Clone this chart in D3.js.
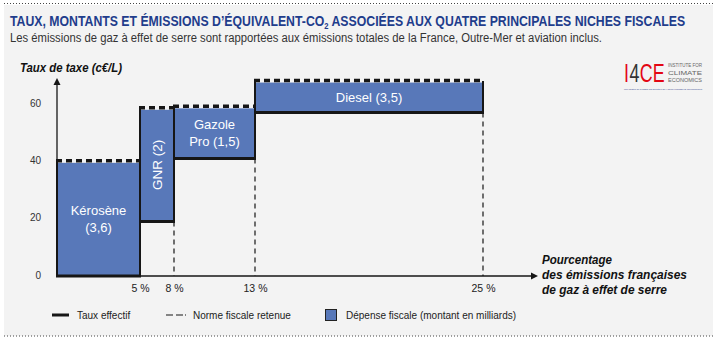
<!DOCTYPE html>
<html><head><meta charset="utf-8">
<script src="https://cdn.jsdelivr.net/npm/d3@7"></script>
<style>
html,body{margin:0;padding:0;background:#fff;}
svg{display:block;font-family:"Liberation Sans",Arial,Helvetica,sans-serif;}
</style></head>
<body>
<script>
// ---- data ----
const categories = ["Kérosène", "GNR", "Gazole Pro", "Diesel"];
const labelLines = [["Kérosène", "(3,6)"], ["GNR (2)"], ["Gazole", "Pro (1,5)"], ["Diesel (3,5)"]];
const fiscalAmount = [3.6, 2, 1.5, 3.5];       // milliards
const pctStart = [0, 5, 8, 13];               // % des émissions
const pctEnd = [5, 8, 13, 25];
const effectiveRate = [0, 19, 41, 57];        // c€/L
const normRate = [40, 58.5, 59, 68];          // c€/L
const yTicks = [0, 20, 40, 60];
const xTicks = [5, 8, 13, 25];
const xBreaks = [0, 5, 8, 13, 25];

const W = 718, H = 344;
const blue = "#5878b9", ink = "#161616";
const svg = d3.select("body").append("svg").attr("width", W).attr("height", H);

// panel
svg.append("rect").attr("x", 4).attr("y", 5).attr("width", 709).attr("height", 331).attr("fill", "#f3f3f3");
[3.5, 336].forEach(y => svg.append("line").attr("x1", 4).attr("x2", 713).attr("y1", y).attr("y2", y)
  .attr("stroke", "#444").attr("stroke-width", 1).attr("stroke-dasharray", "1,2"));

function fit(sel, w) { return sel.attr("textLength", w).attr("lengthAdjust", "spacingAndGlyphs"); }

const title = svg.append("text").attr("x", 10).attr("y", 26).attr("font-size", 14.5).attr("font-weight", "bold").attr("fill", "#1f3d8c");
title.append("tspan").text("TAUX, MONTANTS ET ÉMISSIONS D’ÉQUIVALENT-CO");
title.append("tspan").attr("font-size", 9).attr("dy", 3).text("2");
title.append("tspan").attr("dy", -3).text(" ASSOCIÉES AUX QUATRE PRINCIPALES NICHES FISCALES");
{ const w = title.node().getComputedTextLength(); title.attr("transform", `translate(10,0) scale(${676 / w},1) translate(-10,0)`); }

fit(svg.append("text").attr("x", 10).attr("y", 42).attr("font-size", 12).attr("fill", "#333")
  .text("Les émissions de gaz à effet de serre sont rapportées aux émissions totales de la France, Outre-Mer et aviation inclus."), 592);

// ---- scales ----
const plotLeft = 57, plotBottom = 276;
const y = d3.scaleLinear().domain([0, 60]).range([plotBottom, 104]);
const xRange = [plotLeft, 140, 174, 255, 483];
const x = d3.scaleLinear().domain(xBreaks).range(xRange);

const data = categories.map((c, i) => ({
  c, lines: labelLines[i], amount: fiscalAmount[i], x0: pctStart[i], x1: pctEnd[i],
  eff: effectiveRate[i], norm: normRate[i]
}));

// axes
const yAxis = svg.append("g").attr("transform", `translate(${plotLeft},0)`)
  .call(d3.axisLeft(y).tickValues(yTicks).tickSize(0).tickPadding(16));
yAxis.select(".domain").remove();
yAxis.selectAll("text").attr("font-size", 10).attr("fill", "#333").attr("font-family", "Liberation Sans, Arial").attr("dy", "0.2em");

const xAxis = svg.append("g").attr("transform", `translate(0,${plotBottom})`)
  .call(d3.axisBottom(x).tickValues(xTicks).tickSize(0).tickPadding(9).tickFormat(d => d + " %"));
xAxis.select(".domain").remove();
xAxis.selectAll("text").attr("font-size", 10.5).attr("fill", "#222").attr("font-family", "Liberation Sans Narrow, Liberation Sans, Arial");

// vertical guide lines
svg.append("g").selectAll("line").data(data.slice(1)).join("line")
  .attr("x1", d => x(d.x1)).attr("x2", d => x(d.x1))
  .attr("y1", d => y(d.eff)).attr("y2", plotBottom)
  .attr("stroke", ink).attr("stroke-width", 1.2).attr("stroke-dasharray", "5,4");

// bars (fiscal expenditure)
svg.append("g").selectAll("rect").data(data).join("rect")
  .attr("x", d => x(d.x0)).attr("width", d => x(d.x1) - x(d.x0))
  .attr("y", d => y(d.norm) + 1.5).attr("height", d => y(d.eff) - y(d.norm) - 1.5)
  .attr("fill", blue);
// side edges
const edges = svg.append("g").attr("stroke", ink).attr("stroke-width", 2);
data.forEach(d => {
  [d.x0, d.x1].forEach(v => edges.append("line").attr("x1", x(v)).attr("x2", x(v))
    .attr("y1", y(d.norm)).attr("y2", y(d.eff)));
});

// axis lines with arrows
svg.append("line").attr("x1", plotLeft).attr("x2", 532).attr("y1", plotBottom).attr("y2", plotBottom)
  .attr("stroke", ink).attr("stroke-width", 1.3);
svg.append("path").attr("d", `M538,${plotBottom} L531,${plotBottom - 3.5} L531,${plotBottom + 3.5} Z`).attr("fill", ink);
svg.append("line").attr("x1", plotLeft).attr("x2", plotLeft).attr("y1", plotBottom).attr("y2", 84)
  .attr("stroke", ink).attr("stroke-width", 1.3);
svg.append("path").attr("d", `M${plotLeft},78 L${plotLeft - 3.5},85 L${plotLeft + 3.5},85 Z`).attr("fill", ink);

// effective rate (solid)
svg.append("g").selectAll("line").data(data).join("line")
  .attr("x1", d => x(d.x0) - 1).attr("x2", d => x(d.x1) + 1)
  .attr("y1", d => y(d.eff)).attr("y2", d => y(d.eff))
  .attr("stroke", ink).attr("stroke-width", 3);
// norm (dashed)
svg.append("g").selectAll("line").data(data).join("line")
  .attr("x1", d => x(d.x0) - 1).attr("x2", d => x(d.x1) + 1)
  .attr("y1", d => y(d.norm) - 0.5).attr("y2", d => y(d.norm) - 0.5)
  .attr("stroke", ink).attr("stroke-width", 3.5).attr("stroke-dasharray", "6,4");

// bar labels
data.forEach(d => {
  const cx = (x(d.x0) + x(d.x1)) / 2, cy = (y(d.norm) + y(d.eff)) / 2;
  if (d.c === "GNR") {
    svg.append("text").attr("transform", `translate(${cx},${cy}) rotate(-90)`)
      .attr("text-anchor", "middle").attr("dy", "0.36em").attr("font-size", 13.5).attr("fill", "#fff").text(d.lines[0]);
  } else {
    const n = d.lines.length;
    d.lines.forEach((t, j) => svg.append("text").attr("x", cx).attr("y", cy + (j - (n - 1) / 2) * 17 + 4.7)
      .attr("text-anchor", "middle").attr("font-size", 13).attr("fill", "#fff").text(t));
  }
});

// axis titles
fit(svg.append("text").attr("x", 20).attr("y", 72).attr("font-size", 12.5).attr("font-weight", "bold")
  .attr("font-style", "italic").attr("fill", "#111").text("Taux de taxe (c€/L)"), 102);
[["Pourcentage", 264, 70], ["des émissions françaises", 279, 145], ["de gaz à effet de serre", 294, 125]].forEach(([t, yy, w]) =>
  fit(svg.append("text").attr("x", 542).attr("y", yy).attr("font-size", 12.5).attr("font-weight", "bold")
    .attr("font-style", "italic").attr("fill", "#111").text(t), w));

// legend
const lg = svg.append("g").attr("font-size", 10).attr("fill", "#222");
lg.append("line").attr("x1", 52).attr("x2", 69).attr("y1", 315).attr("y2", 315).attr("stroke", ink).attr("stroke-width", 3);
lg.append("text").attr("x", 77).attr("y", 318.5).attr("fill", "#222").text("Taux effectif");
lg.append("line").attr("x1", 166).attr("x2", 187).attr("y1", 315).attr("y2", 315).attr("stroke", ink)
  .attr("stroke-width", 1.2).attr("stroke-dasharray", "7,3,7,2,1");
lg.append("text").attr("x", 193).attr("y", 318.5).attr("fill", "#222").text("Norme fiscale retenue");
lg.append("rect").attr("x", 325.5).attr("y", 309.5).attr("width", 11).attr("height", 11).attr("fill", blue)
  .attr("stroke", "#222").attr("stroke-width", 1);
lg.append("text").attr("x", 346).attr("y", 318.5).attr("fill", "#222").text("Dépense fiscale (montant en milliards)");

// logo
const logo = svg.append("g");
const mark = logo.append("g").attr("font-size", 26).attr("font-family", "Liberation Sans Narrow, Liberation Sans, Arial");
const parts = [["I", "#e30613"], ["4", "#333"], ["CE", "#e30613"]];
let cursor = 0;
const nodes = parts.map(([t, c]) => {
  const n = mark.append("text").attr("x", cursor).attr("y", 0).attr("fill", c).text(t);
  cursor += n.node().getComputedTextLength() + 0.6;
  return n;
});
mark.attr("transform", `translate(624,82) scale(${41 / cursor},1)`);
[["INSTITUTE FOR", 67], ["CLIMATE", 74.5], ["ECONOMICS", 82]].forEach(([t, yy]) =>
  fit(logo.append("text").attr("x", 668).attr("y", yy).attr("font-size", 6.1).attr("fill", "#666")
    .attr("font-family", "Liberation Sans Narrow, Liberation Sans, Arial").text(t), 34));
fit(logo.append("text").attr("x", 624).attr("y", 89.5).attr("font-size", 2.4).attr("fill", "#2a3a8a")
  .text("Une initiative de la Caisse des Dépôts et de l'Agence Française de Développement"), 78);
</script>
</body></html>
